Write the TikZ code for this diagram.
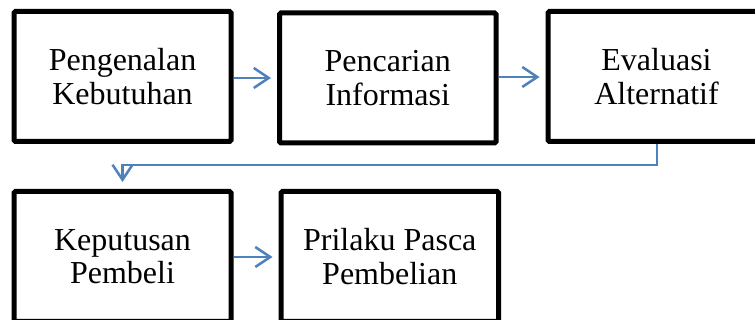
\documentclass[tikz,border=0pt]{standalone}
\usepackage{fontspec}
\setmainfont{Liberation Serif}
\usetikzlibrary{arrows.meta}
\definecolor{arrowblue}{HTML}{4F81BD}
\begin{document}
\begin{tikzpicture}[x=1pt,y=-1pt,
  stagebox/.style={draw=black, line width=5pt, rounded corners=1.5pt, fill=white,
    minimum width=217pt, minimum height=130pt, inner sep=0pt, align=center,
    font=\fontsize{32}{33.5}\selectfont},
  flow/.style={draw=arrowblue, line width=2.5pt,
    -{Straight Barb[length=15pt,width=20pt,line width=2.5pt]}}]
\useasboundingbox (0,0) rectangle (755,320);
\node[stagebox] (b1) at (122.5,76.5) {Pengenalan\\Kebutuhan};
\node[stagebox, minimum width=216.5pt] (b2) at (387.75,78) {Pencarian\\Informasi};
\node[stagebox] (b3) at (656.5,76.5) {Evaluasi\\Alternatif};
\node[stagebox] (b4) at (122.5,256.5) {Keputusan\\Pembeli};
\node[stagebox, minimum width=217.5pt] (b5) at (389.75,256.5) {Prilaku Pasca\\Pembelian};
\draw[flow, shorten >=6pt] (b1.east |- 0,78) -- (b2.west |- 0,78);
\draw[flow, shorten >=6pt] (b2.east |- 0,77) -- (b3.west |- 0,77);
\draw[flow, shorten >=7pt] (b3.south -| 657,0) |- (122.5,165) -- (b4.north);
\draw[flow, shorten >=6pt] (b4.east |- 0,257) -- (b5.west |- 0,257);
\end{tikzpicture}
\end{document}
